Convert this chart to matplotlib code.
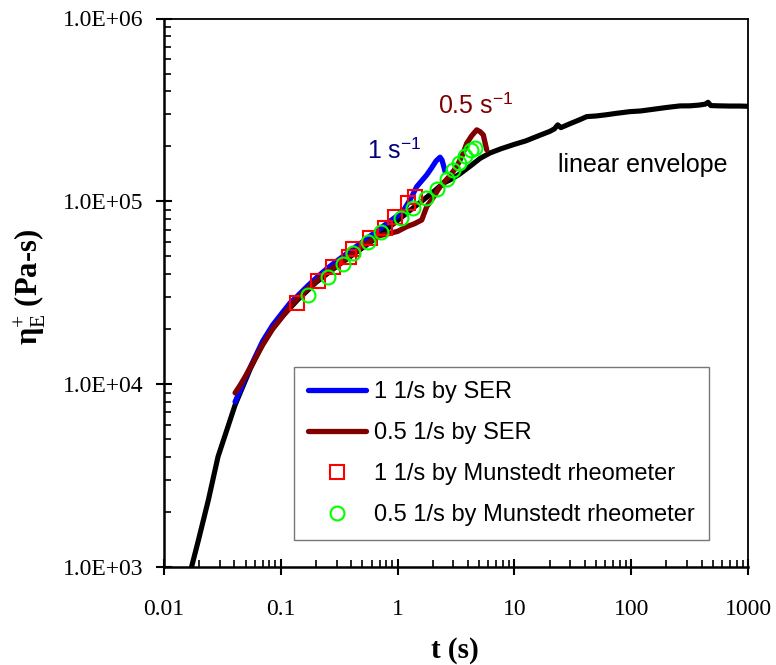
import matplotlib
matplotlib.use('Agg')
import matplotlib.pyplot as plt
from matplotlib.ticker import FixedLocator, FixedFormatter, LogLocator, NullFormatter

plt.rcParams['mathtext.fontset'] = 'custom'
plt.rcParams['mathtext.rm'] = 'Liberation Serif'
plt.rcParams['mathtext.bf'] = 'Liberation Serif:bold'
plt.rcParams['mathtext.it'] = 'Liberation Serif:italic'
plt.rcParams['mathtext.sf'] = 'Liberation Sans'

# linear viscoelastic envelope
env_t = [0.0165, 0.0197, 0.024, 0.029, 0.0345, 0.0406, 0.055, 0.076, 0.1, 0.14,
         0.2, 0.3, 0.45, 0.6, 0.8, 1.0, 1.3, 1.7, 2.1, 2.46, 2.81, 3.4, 4.2, 5.1,
         6.2, 7.7, 10, 12.5, 16, 20, 22, 23.5, 25, 30, 36, 41.6, 50, 60, 75, 97.7,
         120, 150, 200, 262, 320, 380, 430, 455, 480, 550, 700, 850, 1000]
env_eta = [900, 1400, 2330, 4010, 5610, 7690, 12200, 18500, 23000, 29000,
           36000, 44000, 53000, 60500, 70000, 78500, 90000, 103000, 115000, 125600,
           131000, 141000, 156000, 172000, 184000, 194000, 205000, 214000, 228000,
           241000, 249000, 262000, 253000, 266000, 279000, 290600, 293000, 297000,
           303000, 309500, 312000, 318000, 326000, 332600, 333000, 336000, 340000,
           348000, 334000, 333000, 332000, 332000, 331000]

# SER, 1 1/s
ser1_t = [0.0406, 0.045, 0.05, 0.06, 0.07, 0.085, 0.1, 0.12, 0.14, 0.17, 0.2,
          0.25, 0.3, 0.4, 0.5, 0.6, 0.75, 0.9, 1.11, 1.3, 1.458, 1.6, 1.775,
          1.95, 2.13, 2.31, 2.4, 2.48, 2.55]
ser1_eta = [8000, 9300, 10900, 14000, 17200, 21000, 24000, 27800, 30500, 34500,
            38000, 43000, 47000, 54000, 60000, 65500, 73000, 79500, 88000, 104000,
            120300, 129000, 139400, 152000, 166000, 174300, 168000, 156000, 145300]

# SER, 0.5 1/s
ser05_t = [0.0406, 0.045, 0.05, 0.06, 0.07, 0.085, 0.1, 0.12, 0.15, 0.2, 0.25,
           0.3, 0.4, 0.5, 0.6, 0.706, 0.861, 1.0, 1.197, 1.4, 1.61, 1.775, 2.0,
           2.31, 2.8, 3.21, 3.6, 3.91, 4.05, 4.3, 4.76, 5.1, 5.42, 5.6, 5.8]
ser05_eta = [8960, 9900, 11100, 13700, 16400, 20000, 22800, 26500, 31000, 36500,
             41000, 44500, 51000, 56500, 61500, 65000, 66900, 68500, 72700, 75500,
             79100, 93500, 104000, 120300, 138000, 154800, 180000, 208000, 215000,
             228000, 246000, 240000, 230700, 210000, 191000]

# Munstedt rheometer
mun1_t = [0.137, 0.209, 0.282, 0.386, 0.418, 0.581, 0.78, 0.95, 1.235, 1.41]
mun1_eta = [27700, 36700, 43600, 49500, 54700, 62800, 71300, 82500, 98400, 106000]

mun05_t = [0.172, 0.255, 0.339, 0.413, 0.561, 0.716, 1.063, 1.362, 1.75, 2.16,
           2.63, 3.0, 3.38, 3.78, 4.23, 4.6]
mun05_eta = [30800, 38700, 45400, 52000, 60200, 68300, 81500, 92400, 104800,
             116500, 132000, 148500, 161600, 177000, 191000, 195000]

x_ticks = [0.01, 0.1, 1, 10, 100, 1000]
x_labels = ['0.01', '0.1', '1', '10', '100', '1000']
y_ticks = [1e3, 1e4, 1e5, 1e6]
y_labels = ['1.0E+03', '1.0E+04', '1.0E+05', '1.0E+06']

fig = plt.figure(figsize=(7.76, 6.65), dpi=100)
ax = fig.add_axes([164 / 776, 1 - 567 / 665, 584 / 776, 548.5 / 665])

ax.plot(env_t, env_eta, color='black', lw=3.7, solid_capstyle='round', zorder=2)
ax.plot(ser1_t, ser1_eta, color='#0000FF', lw=3.8, solid_capstyle='round',
        label='1 1/s by SER', zorder=3)
ax.plot(ser05_t, ser05_eta, color='#800000', lw=3.8, solid_capstyle='round',
        label='0.5 1/s by SER', zorder=4)
ax.plot(mun1_t, mun1_eta, ls='none', marker='s', ms=10, mfc='none', mec='#FF0000',
        mew=1.5, label='1 1/s by Munstedt rheometer', zorder=5)
ax.plot(mun05_t, mun05_eta, ls='none', marker='o', ms=10, mfc='none', mec='#00FF00',
        mew=1.5, label='0.5 1/s by Munstedt rheometer', zorder=6)

ax.set_xscale('log')
ax.set_yscale('log')
ax.set_xlim(0.01, 1000)
ax.set_ylim(1e3, 1e6)

ax.xaxis.set_major_locator(FixedLocator(x_ticks))
ax.xaxis.set_major_formatter(FixedFormatter(x_labels))
ax.yaxis.set_major_locator(FixedLocator(y_ticks))
ax.yaxis.set_major_formatter(FixedFormatter(y_labels))
ax.xaxis.set_minor_locator(LogLocator(base=10, subs=range(2, 10), numticks=20))
ax.yaxis.set_minor_locator(LogLocator(base=10, subs=range(2, 10), numticks=20))
ax.xaxis.set_minor_formatter(NullFormatter())
ax.yaxis.set_minor_formatter(NullFormatter())

ax.tick_params(which='major', direction='inout', length=12, width=1.5,
               labelsize=17, top=False, right=False)
ax.tick_params(which='minor', direction='in', length=5, width=1.2,
               top=False, right=False)
ax.tick_params(axis='x', which='major', pad=17)
ax.tick_params(axis='y', which='major', pad=9)
for lab in ax.get_xticklabels() + ax.get_yticklabels():
    lab.set_fontfamily('Liberation Serif')

for s in ['left', 'bottom']:
    ax.spines[s].set_linewidth(1.8)
for s in ['top', 'right']:
    ax.spines[s].set_linewidth(1.3)

ax.set_xlabel('t (s)', fontfamily='Liberation Serif', fontweight='bold', fontsize=21)
ax.xaxis.set_label_coords(0.498, -0.1276)
ax.set_ylabel(r'$\mathbf{\eta}_{\mathrm{E}}^{+}$ (Pa-s)', fontfamily='Liberation Serif',
              fontweight='bold', fontsize=22)
ax.yaxis.set_label_coords(-0.1986, 0.5105)

ax.text(0.547, 172700, r'1 s$^{\mathsf{-1}}$', color='#000080', fontsize=18,
        fontfamily='Liberation Sans', ha='left', va='baseline')
ax.text(2.22, 304500, r'0.5 s$^{\mathsf{-1}}$', color='#800000', fontsize=18,
        fontfamily='Liberation Sans', ha='left', va='baseline')
ax.text(23.6, 145000, 'linear envelope', color='black', fontsize=18,
        fontfamily='Liberation Sans', ha='left', va='baseline')

leg = ax.legend(loc='upper left', bbox_to_anchor=(294 / 776, 1 - 367 / 665),
                bbox_transform=fig.transFigure, borderaxespad=0,
                prop={'family': 'Liberation Sans', 'size': 17},
                frameon=True, fancybox=False, edgecolor='#555555',
                handlelength=2.45, handletextpad=0.35, labelspacing=0.8,
                borderpad=0.6)
leg.get_frame().set_linewidth(1.0)

fig.savefig('out.png', dpi=100)
